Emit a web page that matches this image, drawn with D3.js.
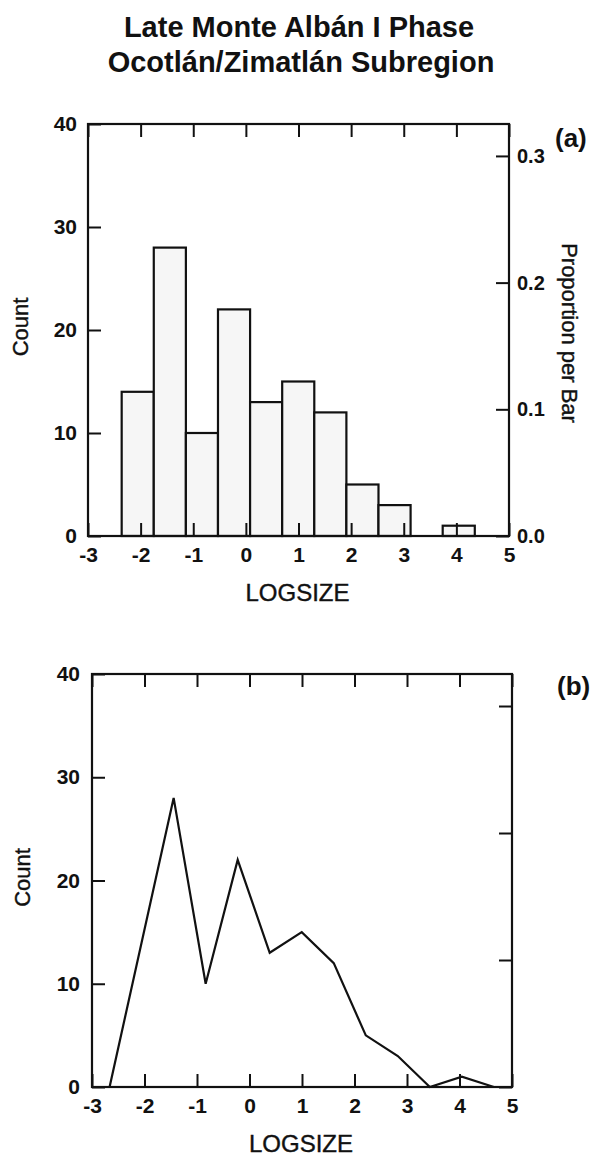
<!DOCTYPE html>
<html lang="en">
<head>
<meta charset="UTF-8">
<title>Late Monte Albán I Phase</title>
<script src="https://d3js.org/d3.v7.min.js"></script>
<style>
  body { margin: 0; background: #fff; }
  svg { display: block; font-family: "Liberation Sans", Arial, Helvetica, sans-serif; }
  .label { stroke: #111; stroke-width: 0.4px; }
</style>
</head>
<body>
<div id="chart"></div>
<script>
// LOGSIZE bin edges and the number of sites in each bin
const binEdges = [-2.36, -1.75, -1.14, -0.53, 0.08, 0.69, 1.30, 1.91, 2.52, 3.13, 3.74, 4.35];
const counts = [14, 28, 10, 22, 13, 15, 12, 5, 3, 0, 1];
const xTicks = [-3, -2, -1, 0, 1, 2, 3, 4, 5];
const countTicks = [0, 10, 20, 30, 40];
const propTicks = [0, 0.1, 0.2, 0.3];
const titleLines = ["Late Monte Albán I Phase", "Ocotlán/Zimatlán Subregion"];

const width = 593, height = 1162;
const ink = "#111";
const total = d3.sum(counts);

const bins = counts.map((c, i) => ({ x0: binEdges[i], x1: binEdges[i + 1], count: c }));

// frequency polygon runs through the bin midpoints, closed by a zero on each side
const binW = binEdges[1] - binEdges[0];
const poly = [{ x: binEdges[0] - binW / 2, count: 0 }]
    .concat(bins.map(b => ({ x: (b.x0 + b.x1) / 2, count: b.count })))
    .concat([{ x: binEdges[binEdges.length - 1] + binW / 2, count: 0 }]);

const svg = d3.select("#chart")
    .append("svg")
    .attr("width", width)
    .attr("height", height);

svg.append("rect").attr("width", width).attr("height", height).attr("fill", "#fff");

// title
svg.append("g")
    .selectAll("text")
    .data(titleLines)
    .join("text")
    .attr("x", (d, i) => i === 0 ? 299 : 301)
    .attr("y", (d, i) => i === 0 ? 37 : 72)
    .attr("text-anchor", "middle")
    .attr("font-size", 29)
    .attr("font-weight", "bold")
    .attr("fill", ink)
    .text(d => d);

function drawPanel(box, tag) {
    const x = d3.scaleLinear().domain([-3, 5]).range([box.left, box.right]);
    const y = d3.scaleLinear().domain([0, 40]).range([box.bottom, box.top]);
    const yProp = d3.scaleLinear().domain([0, 40 / total]).range([box.bottom, box.top]);

    const g = svg.append("g");

    // ticks point inward on all four sides
    g.append("g")
        .attr("transform", `translate(0,${box.bottom})`)
        .call(d3.axisBottom(x).tickValues(xTicks).tickSize(-13).tickPadding(11).tickFormat(d => String(d)));
    g.append("g")
        .attr("transform", `translate(0,${box.top})`)
        .call(d3.axisTop(x).tickValues(xTicks).tickSize(-13).tickFormat(""));
    g.append("g")
        .attr("transform", `translate(${box.left},0)`)
        .call(d3.axisLeft(y).tickValues(countTicks).tickSize(-13).tickPadding(box.labelPad).tickFormat(d => String(d)));
    g.append("g")
        .attr("class", "right")
        .attr("transform", `translate(${box.right},0)`)
        .call(d3.axisRight(yProp).tickValues(propTicks).tickSize(-13).tickPadding(8)
            .tickFormat(box.propLabels ? d3.format(".1f") : ""));

    g.selectAll(".domain").remove();
    g.selectAll(".tick line").attr("stroke", ink).attr("stroke-width", 2);
    g.selectAll(".tick text")
        .attr("fill", ink)
        .attr("font-size", 21)
        .attr("font-weight", "bold")
        .attr("font-family", null);
    g.selectAll(".right .tick text").attr("font-size", 20);

    g.append("text")
        .attr("class", "label")
        .attr("x", (box.left + box.right) / 2 - 1)
        .attr("y", box.bottom + 64.5)
        .attr("text-anchor", "middle")
        .attr("font-size", 24)
        .attr("fill", ink)
        .text("LOGSIZE");

    g.append("text")
        .attr("class", "label")
        .attr("transform", `translate(${box.countX},${(box.top + box.bottom) / 2 - 3}) rotate(-90)`)
        .attr("text-anchor", "middle")
        .attr("font-size", 22)
        .attr("fill", ink)
        .text("Count");

    if (box.propLabels) {
        g.append("text")
            .attr("class", "label")
            .attr("transform", `translate(562,${(box.top + box.bottom) / 2 + 3}) rotate(90)`)
            .attr("text-anchor", "middle")
            .attr("font-size", 22)
            .attr("fill", ink)
            .text("Proportion per Bar");
    }

    g.append("text")
        .attr("x", box.tagX)
        .attr("y", box.top + box.tagDy)
        .attr("dy", "0.35em")
        .attr("font-size", 26)
        .attr("font-weight", "bold")
        .attr("fill", ink)
        .text(tag);

    return { g, x, y };
}

// (a) histogram
const panelA = drawPanel({ left: 88, right: 509, top: 124, bottom: 536, labelPad: 11, propLabels: true, countX: 28, tagX: 555, tagDy: 14 }, "(a)");
panelA.g.insert("g", ":first-child")
    .selectAll("rect")
    .data(bins.filter(b => b.count > 0))
    .join("rect")
    .attr("x", d => panelA.x(d.x0))
    .attr("width", d => panelA.x(d.x1) - panelA.x(d.x0))
    .attr("y", d => panelA.y(d.count))
    .attr("height", d => panelA.y(0) - panelA.y(d.count))
    .attr("fill", "#f6f6f6")
    .attr("stroke", ink)
    .attr("stroke-width", 2.2);

// (b) frequency polygon
const panelB = drawPanel({ left: 92, right: 512, top: 674, bottom: 1087, labelPad: 12, propLabels: false, countX: 30, tagX: 557, tagDy: 12 }, "(b)");
panelB.g.append("path")
    .datum(poly)
    .attr("fill", "none")
    .attr("stroke", ink)
    .attr("stroke-width", 2.2)
    .attr("stroke-linejoin", "miter")
    .attr("d", d3.line().x(d => panelB.x(d.x)).y(d => panelB.y(d.count)));

// plot frames drawn last so they sit over the bars
[panelA, panelB].forEach(p => {
    const [x0, x1] = p.x.range();
    const [y0, y1] = p.y.range();
    p.g.append("rect")
        .attr("x", x0)
        .attr("y", y1)
        .attr("width", x1 - x0)
        .attr("height", y0 - y1)
        .attr("fill", "none")
        .attr("stroke", ink)
        .attr("stroke-width", 2.2);
});
</script>
</body>
</html>
